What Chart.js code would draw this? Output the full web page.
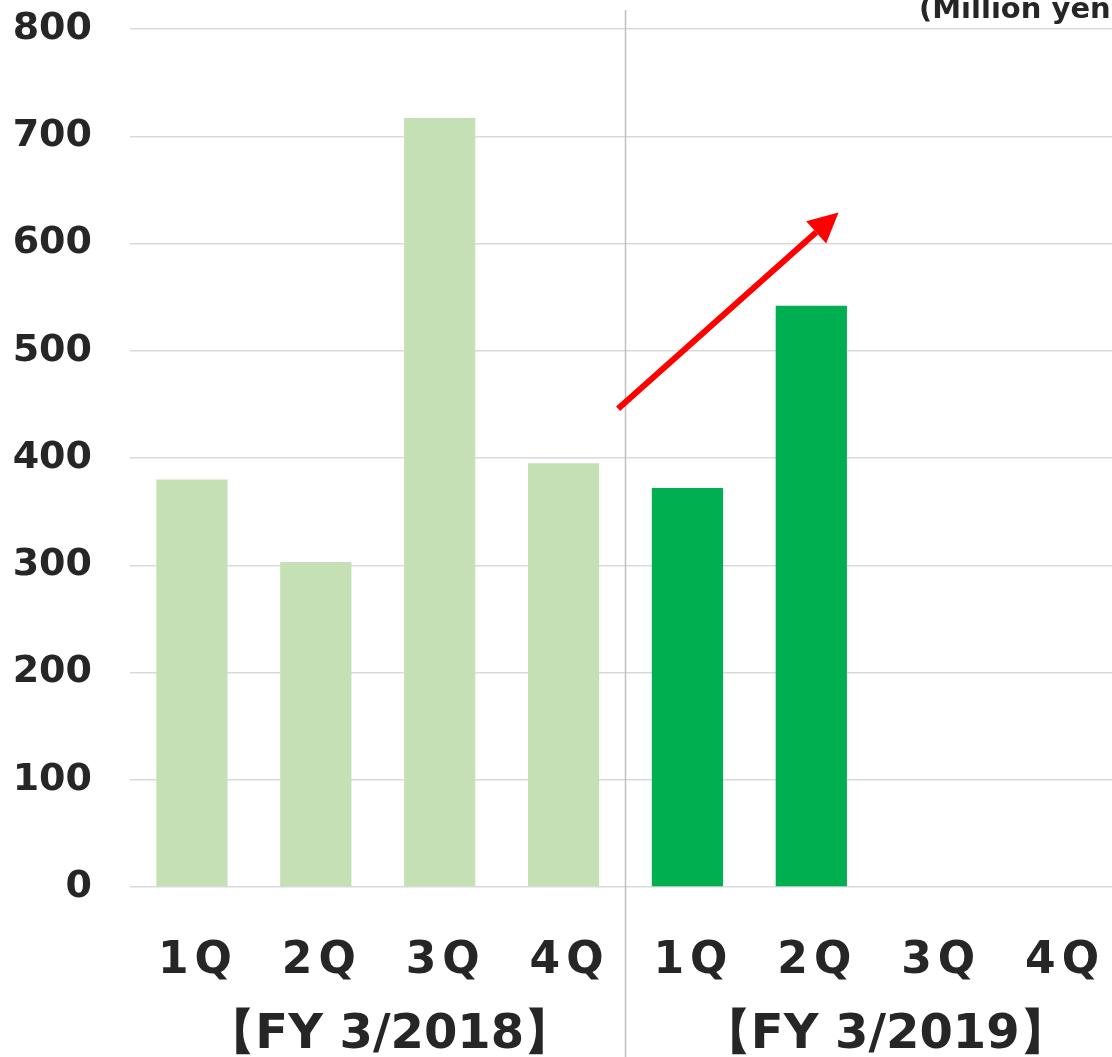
<!DOCTYPE html>
<html>
<head>
<meta charset="utf-8">
<script src="https://cdn.jsdelivr.net/npm/chart.js@4"></script>
<style>
    html, body { margin: 0; padding: 0; background: #fff; overflow: hidden; }
    #wrap { position: relative; width: 1126px; height: 1057px; }
</style>
</head>
<body>
<div id="wrap"><canvas id="barChart"></canvas></div>
<script>
// Quarterly values (Million yen)
const quarters = ["1Q", "2Q", "3Q", "4Q", "1Q", "2Q", "3Q", "4Q"];
const fiscalYears = ["【FY 3/2018】", "【FY 3/2019】"];
const yearOfQuarter = [0, 0, 0, 0, 1, 1, 1, 1];
const salesValues = [380, 303, 717, 395, 372, 542, null, null];
const barColors = ["#C5E0B4", "#C5E0B4", "#C5E0B4", "#C5E0B4", "#00B050", "#00B050", "#00B050", "#00B050"];
const yMin = 0, yMax = 800, yStep = 100;
const unitLabel = "(Million yen)";
// trend arrow, in category index / value units
const arrowFrom = [3.44, 446];
const arrowTo = [5.22, 629];

const FONT = "'DejaVu Sans', Verdana, sans-serif";
const TEXT = "#262626";

const extras = {
    id: "extras",
    beforeDatasetsDraw(chart) {
        const ctx = chart.ctx;
        const x = chart.scales.x;
        // separator between the fiscal years
        const sepX = (x.getPixelForValue(3) + x.getPixelForValue(4)) / 2;
        ctx.save();
        ctx.strokeStyle = "#c0c0c0";
        ctx.lineWidth = 1.5;
        ctx.beginPath();
        ctx.moveTo(sepX, 10);
        ctx.lineTo(sepX, chart.height);
        ctx.stroke();
        ctx.restore();
    },
    afterDraw(chart) {
        const ctx = chart.ctx;
        const x = chart.scales.x;
        const y = chart.scales.y;
        ctx.save();
        ctx.fillStyle = TEXT;

        // quarter labels
        ctx.font = "bold 44px " + FONT;
        ctx.letterSpacing = "6px";
        ctx.textAlign = "center";
        ctx.textBaseline = "alphabetic";
        quarters.forEach((q, i) => {
            ctx.fillText(q, x.getPixelForValue(i) + 6, 973);
        });

        // fiscal year labels
        ctx.letterSpacing = "0px";
        ctx.font = "bold 48px " + FONT;
        fiscalYears.forEach((fy, g) => {
            const idx = yearOfQuarter.map((v, i) => v === g ? i : -1).filter(i => i >= 0);
            const cx = (x.getPixelForValue(idx[0]) + x.getPixelForValue(idx[idx.length - 1])) / 2;
            ctx.fillText(fy, cx + 12, 1048);
        });

        // unit
        ctx.font = "bold 29px " + FONT;
        ctx.textAlign = "right";
        ctx.fillText(unitLabel, chart.width - 2, 18);

        // red trend arrow
        const x1 = x.getPixelForValue(arrowFrom[0]), y1 = y.getPixelForValue(arrowFrom[1]);
        const x2 = x.getPixelForValue(arrowTo[0]), y2 = y.getPixelForValue(arrowTo[1]);
        const ang = Math.atan2(y2 - y1, x2 - x1);
        const headLen = 30, headHalf = 15;
        const bx = x2 - headLen * Math.cos(ang), by = y2 - headLen * Math.sin(ang);
        ctx.strokeStyle = "#FF0000";
        ctx.fillStyle = "#FF0000";
        ctx.lineWidth = 6;
        ctx.beginPath();
        ctx.moveTo(x1, y1);
        ctx.lineTo(bx, by);
        ctx.stroke();
        ctx.beginPath();
        ctx.moveTo(x2, y2);
        ctx.lineTo(bx + headHalf * Math.sin(ang), by - headHalf * Math.cos(ang));
        ctx.lineTo(bx - headHalf * Math.sin(ang), by + headHalf * Math.cos(ang));
        ctx.closePath();
        ctx.fill();
        ctx.restore();
    }
};

const ctx = document.getElementById("barChart").getContext("2d");
new Chart(ctx, {
    type: "bar",
    data: {
        labels: quarters.map((q, i) => q + i),
        datasets: [{
            data: salesValues,
            backgroundColor: barColors,
            categoryPercentage: 1,
            barPercentage: 0.575
        }]
    },
    options: {
        responsive: true,
        maintainAspectRatio: false,
        animation: false,
        layout: { padding: { top: 29, right: 5, left: 0, bottom: 0 } },
        plugins: { legend: { display: false }, tooltip: { enabled: false } },
        scales: {
            x: {
                grid: { display: false },
                border: { display: false },
                ticks: { display: false },
                afterFit(scale) { scale.height = 170; }
            },
            y: {
                min: yMin,
                max: yMax,
                border: { display: false },
                grid: { color: "#d9d9d9", lineWidth: 1.5, drawTicks: false },
                ticks: {
                    stepSize: yStep,
                    padding: 38,
                    color: TEXT,
                    font: { family: FONT, size: 38, weight: "bold" }
                },
                afterFit(scale) {
                    scale.width = 130;
                    scale.paddingTop = 0;
                    scale.paddingBottom = 0;
                }
            }
        }
    },
    plugins: [extras]
});
</script>
</body>
</html>
